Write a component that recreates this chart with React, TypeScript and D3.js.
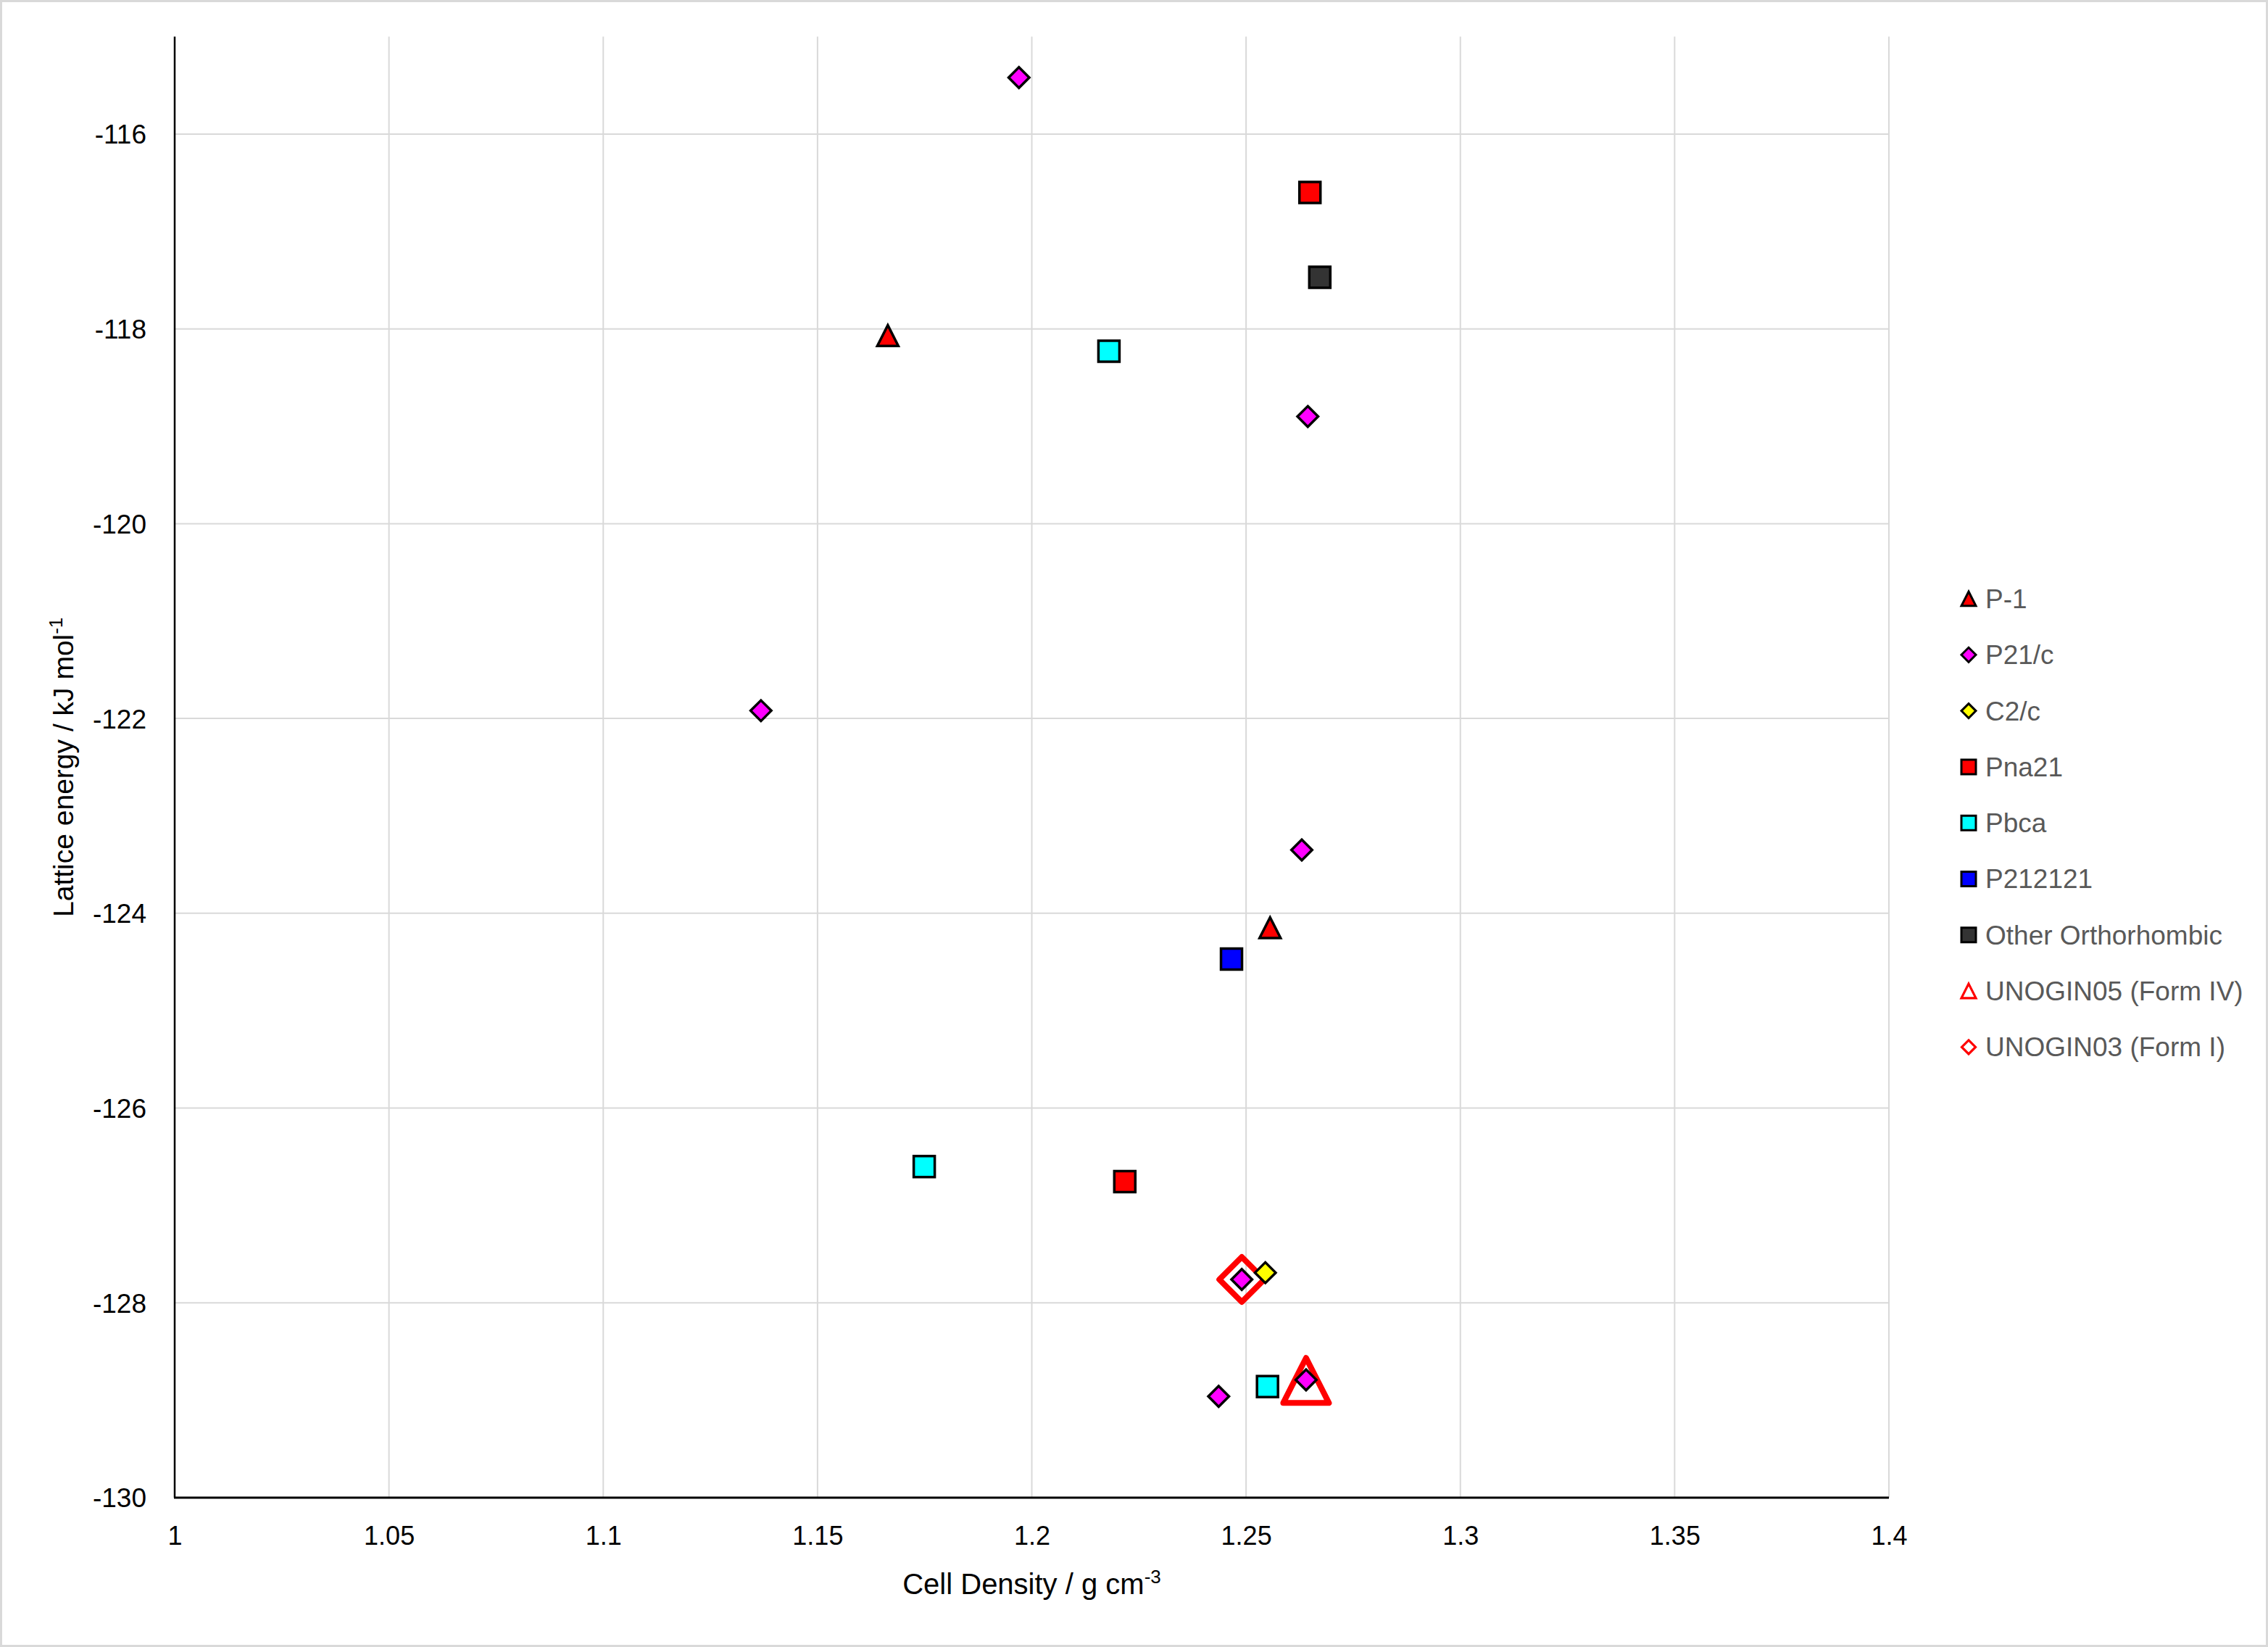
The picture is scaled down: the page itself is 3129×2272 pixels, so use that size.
import React, { useEffect, useRef } from 'react';
import * as d3 from 'd3';

// tick values
const xTicks = [1, 1.05, 1.1, 1.15, 1.2, 1.25, 1.3, 1.35, 1.4];
const yTicks = [-130, -128, -126, -124, -122, -120, -118, -116];

// cell density (g cm-3) and lattice energy (kJ/mol) per space group
const p1Density = [1.1664, 1.2556];
const p1Energy = [-118.07, -124.15];

const p21cDensity = [1.197, 1.2644, 1.1368, 1.263, 1.249, 1.2436, 1.264];
const p21cEnergy = [-115.42, -118.9, -121.92, -123.35, -127.76, -128.96, -128.79];

const c2cDensity = [1.2545];
const c2cEnergy = [-127.69];

const pna21Density = [1.2649, 1.2217];
const pna21Energy = [-116.6, -126.755];

const pbcaDensity = [1.218, 1.1749, 1.255];
const pbcaEnergy = [-118.23, -126.6, -128.86];

const p212121Density = [1.2466];
const p212121Energy = [-124.47];

const otherDensity = [1.2672];
const otherEnergy = [-117.47];

const formIVDensity = [1.264];
const formIVEnergy = [-128.8];

const formIDensity = [1.249];
const formIEnergy = [-127.76];

// custom marker shapes (size = side length squared)
const boxTriangle: d3.SymbolType = {
    draw(ctx, size) {
        const r = Math.sqrt(size) / 2;
        ctx.moveTo(0, -r);
        ctx.lineTo(r, r * 0.97);
        ctx.lineTo(-r, r * 0.97);
        ctx.closePath();
    }
};
const boxDiamond: d3.SymbolType = {
    draw(ctx, size) {
        const r = Math.sqrt(size) / 2;
        ctx.moveTo(0, -r);
        ctx.lineTo(r, 0);
        ctx.lineTo(0, r);
        ctx.lineTo(-r, 0);
        ctx.closePath();
    }
};
const boxSquare: d3.SymbolType = {
    draw(ctx, size) {
        const r = Math.sqrt(size) / 2;
        ctx.rect(-r, -r, 2 * r, 2 * r);
    }
};

interface Series {
    name: string;
    xs: number[];
    ys: number[];
    shape: d3.SymbolType;
    fill: string;
    stroke: string;
    strokeWidth: number;
    size: number;
    legendSize: number;
    legendStroke: number;
    join: string;
}

const series: Series[] = [
    { name: 'P-1', xs: p1Density, ys: p1Energy, shape: boxTriangle, fill: '#ff0000', stroke: '#000', strokeWidth: 3.5, size: 29, legendSize: 20, legendStroke: 3, join: 'miter' },
    { name: 'P21/c', xs: p21cDensity, ys: p21cEnergy, shape: boxDiamond, fill: '#ff00ff', stroke: '#000', strokeWidth: 3.5, size: 28.5, legendSize: 20, legendStroke: 3, join: 'miter' },
    { name: 'C2/c', xs: c2cDensity, ys: c2cEnergy, shape: boxDiamond, fill: '#ffff00', stroke: '#000', strokeWidth: 3.5, size: 28.5, legendSize: 20, legendStroke: 3, join: 'miter' },
    { name: 'Pna21', xs: pna21Density, ys: pna21Energy, shape: boxSquare, fill: '#ff0000', stroke: '#000', strokeWidth: 3.5, size: 29, legendSize: 20, legendStroke: 3, join: 'miter' },
    { name: 'Pbca', xs: pbcaDensity, ys: pbcaEnergy, shape: boxSquare, fill: '#00ffff', stroke: '#000', strokeWidth: 3.5, size: 29, legendSize: 20, legendStroke: 3, join: 'miter' },
    { name: 'P212121', xs: p212121Density, ys: p212121Energy, shape: boxSquare, fill: '#0000ff', stroke: '#000', strokeWidth: 3.5, size: 29, legendSize: 20, legendStroke: 3, join: 'miter' },
    { name: 'Other Orthorhombic', xs: otherDensity, ys: otherEnergy, shape: boxSquare, fill: '#333333', stroke: '#000', strokeWidth: 3.5, size: 29, legendSize: 20, legendStroke: 3, join: 'miter' },
    { name: 'UNOGIN05 (Form IV)', xs: formIVDensity, ys: formIVEnergy, shape: boxTriangle, fill: 'none', stroke: '#ff0000', strokeWidth: 8, size: 63, legendSize: 20, legendStroke: 3.2, join: 'round' },
    { name: 'UNOGIN03 (Form I)', xs: formIDensity, ys: formIEnergy, shape: boxDiamond, fill: 'none', stroke: '#ff0000', strokeWidth: 8, size: 62, legendSize: 19, legendStroke: 3.2, join: 'round' },
];

const FONT = '"Liberation Sans", Arial, sans-serif';

const App: React.FC = () => {
    const svgRef = useRef<SVGSVGElement>(null);

    useEffect(() => {
        const width = 3129;
        const height = 2272;
        const left = 241, right = 2606, bottom = 2066;
        const unit = 134.36;

        const svg = d3.select(svgRef.current)
            .attr('width', width)
            .attr('height', height);
        svg.selectAll('*').remove();

        svg.append('rect')
            .attr('width', width).attr('height', height)
            .attr('fill', '#fff');
        svg.append('rect')
            .attr('x', 1.5).attr('y', 1.5)
            .attr('width', width - 3).attr('height', height - 3)
            .attr('fill', 'none').attr('stroke', '#d9d9d9').attr('stroke-width', 3);

        const xScale = d3.scaleLinear().domain([1, 1.4]).range([left, right]);
        const yScale = d3.scaleLinear().domain([-130, -115]).range([bottom, bottom - 15 * unit]);
        const top = yScale(-115);

        // gridlines
        svg.append('g')
            .selectAll('line.vg')
            .data(xTicks.slice(1))
            .enter().append('line')
            .attr('x1', d => xScale(d)).attr('x2', d => xScale(d))
            .attr('y1', top).attr('y2', bottom)
            .attr('stroke', '#d9d9d9').attr('stroke-width', 2);
        svg.append('g')
            .selectAll('line.hg')
            .data(yTicks.slice(1))
            .enter().append('line')
            .attr('x1', left).attr('x2', right)
            .attr('y1', d => yScale(d)).attr('y2', d => yScale(d))
            .attr('stroke', '#d9d9d9').attr('stroke-width', 2);

        // axes
        const xAxis = svg.append('g')
            .attr('transform', `translate(0, ${bottom})`)
            .call(d3.axisBottom(xScale).tickValues(xTicks).tickSize(0).tickPadding(65).tickFormat(d => String(+d)));
        xAxis.select('.domain').remove();
        xAxis.selectAll('text').attr('font-size', 36).attr('font-family', FONT).attr('fill', '#000').attr('dy', 0);

        const yAxis = svg.append('g')
            .attr('transform', `translate(${left}, 0)`)
            .call(d3.axisLeft(yScale).tickValues(yTicks).tickSize(0).tickPadding(39).tickFormat(d => String(+d)));
        yAxis.select('.domain').remove();
        yAxis.selectAll('text').attr('font-size', 37).attr('font-family', FONT).attr('fill', '#000').attr('dy', '0.35em');

        svg.append('line')
            .attr('x1', left).attr('x2', left)
            .attr('y1', top).attr('y2', bottom)
            .attr('stroke', '#000').attr('stroke-width', 2.5);
        svg.append('line')
            .attr('x1', left - 1).attr('x2', right)
            .attr('y1', bottom).attr('y2', bottom)
            .attr('stroke', '#000').attr('stroke-width', 3);

        // axis titles
        const xt = svg.append('text')
            .attr('x', (left + right) / 2).attr('y', 2199)
            .attr('text-anchor', 'middle')
            .attr('font-size', 40).attr('font-family', FONT).attr('fill', '#000');
        xt.append('tspan').text('Cell Density / g cm');
        xt.append('tspan').attr('dy', -15).attr('font-size', 26).text('-3');

        const yt = svg.append('text')
            .attr('transform', `translate(101, ${(top + bottom) / 2}) rotate(-90)`)
            .attr('text-anchor', 'middle')
            .attr('font-size', 39).attr('font-family', FONT).attr('fill', '#000');
        yt.append('tspan').text('Lattice energy / kJ mol');
        yt.append('tspan').attr('dy', -15).attr('font-size', 26).text('-1');

        // points: highlighted forms first, then space groups on top
        const drawOrder = [...series.slice(7), ...series.slice(0, 7)];
        drawOrder.forEach(s => {
            const sym = d3.symbol().type(s.shape).size(s.size * s.size);
            svg.append('g')
                .selectAll('path')
                .data(s.xs.map((x, i) => [x, s.ys[i]]))
                .enter().append('path')
                .attr('transform', d => `translate(${xScale(d[0])}, ${yScale(d[1])})`)
                .attr('d', sym())
                .attr('fill', s.fill)
                .attr('stroke', s.stroke)
                .attr('stroke-width', s.strokeWidth)
                .attr('stroke-linejoin', s.join);
        });

        // legend
        const legend = svg.append('g').attr('transform', 'translate(2716, 826)');
        const rowH = 77.3;
        series.forEach((s, i) => {
            const row = legend.append('g').attr('transform', `translate(0, ${i * rowH})`);
            row.append('path')
                .attr('d', d3.symbol().type(s.shape).size(s.legendSize * s.legendSize)())
                .attr('fill', s.fill)
                .attr('stroke', s.stroke)
                .attr('stroke-width', s.legendStroke)
                .attr('stroke-linejoin', 'miter');
            row.append('text')
                .attr('x', 23).attr('y', 0).attr('dy', '0.35em')
                .attr('font-size', 37).attr('font-family', FONT).attr('fill', '#595959')
                .text(s.name);
        });
    }, []);

    return <svg ref={svgRef} style={{ position: 'absolute', left: 0, top: 0, display: 'block' }}></svg>;
};

export default App;
